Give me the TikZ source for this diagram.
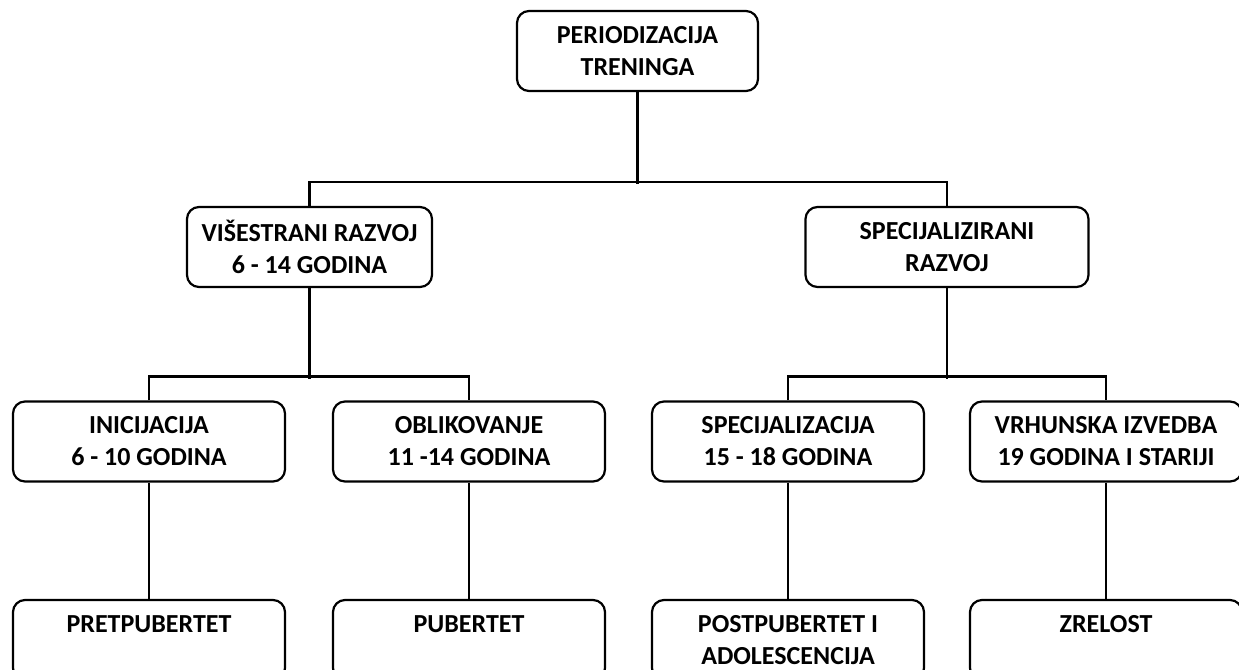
\documentclass[tikz,border=0pt]{standalone}
\usepackage{fontspec}
\setmainfont{Carlito}
\usetikzlibrary{positioning}
\tikzset{
  box/.style={rectangle,rounded corners=6pt,draw=black,line width=1.1pt,
              minimum height=40pt,minimum width=#1,inner sep=2pt,
              font=\fontsize{13}{16}\selectfont\bfseries,align=center},
  box/.default=136pt,
  conn/.style={line width=1.1pt,black},
}
\begin{document}
\begin{tikzpicture}[x=0.5pt,y=-0.5pt]
  \clip (0,0) rectangle (1239,670);
  \fill[white] (0,0) rectangle (1239,670);
  % levels
  \node[box=120.5pt] (period) at (637.5,51) {PERIODIZACIJA\\TRENINGA};
  \node[box=122.5pt] (visestr) at (309.5,247) {VIŠESTRANI RAZVOJ\\6 - 14 GODINA};
  \node[box=141.5pt] (specraz) at (947,247) {SPECIJALIZIRANI\\RAZVOJ};
  \node[box] (inic) at (149,441.5) {INICIJACIJA\\6 - 10 GODINA};
  \node[box] (oblik) at (469,441.5) {OBLIKOVANJE\\11 -14 GODINA};
  \node[box] (specij) at (788,441.5) {SPECIJALIZACIJA\\15 - 18 GODINA};
  \node[box] (vrhun) at (1106,441.5) {VRHUNSKA IZVEDBA\\19 GODINA I STARIJI};
  \node[box] (pretpub) at (149,640) {PRETPUBERTET\\~};
  \node[box] (pubert) at (469,640) {PUBERTET\\~};
  \node[box] (postpub) at (788,640) {POSTPUBERTET I\\ADOLESCENCIJA};
  \node[box] (zrelost) at (1106,640) {ZRELOST\\~};
  % connectors
  \draw[conn] (period.south) -- ++(0,92) coordinate (bar1);
  \draw[conn] (visestr.north) -- ++(0,-24) -| (specraz.north);
  \draw[conn] (visestr.south) -- ++(0,91) coordinate (bar2);
  \draw[conn] (inic.north) -- ++(0,-24) -| (oblik.north);
  \draw[conn] (specraz.south) -- ++(0,91) coordinate (bar3);
  \draw[conn] (specij.north) -- ++(0,-24) -| (vrhun.north);
  \foreach \a/\b in {inic/pretpub,oblik/pubert,specij/postpub,vrhun/zrelost}{
    \draw[conn] (\a.south) -- (\b.north);
  }
\end{tikzpicture}
\end{document}
